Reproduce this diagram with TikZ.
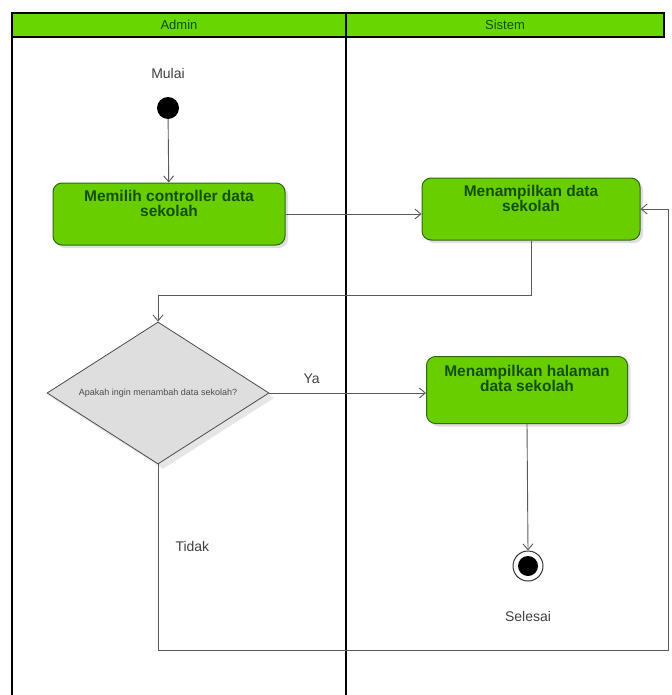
\documentclass[tikz,border=0pt]{standalone}
\usepackage{fontspec}
\setmainfont{Liberation Sans}
\usetikzlibrary{shapes.geometric,arrows.meta,shadows}

\definecolor{lanegreen}{RGB}{104,214,0}
\definecolor{boxgreen}{RGB}{104,206,0}
\definecolor{boxborder}{RGB}{48,105,12}
\definecolor{textgreen}{RGB}{22,78,0}
\definecolor{linegray}{RGB}{90,90,90}
\definecolor{decisiongray}{RGB}{222,222,222}

\begin{document}
\begin{tikzpicture}[x=1pt,y=-1pt]
    % Define styles
    \tikzset{
        activity/.style={rectangle, rounded corners=9pt, draw=boxborder, line width=1pt, fill=boxgreen, text=textgreen, font=\bfseries\fontsize{15.5}{15}\selectfont, align=center, inner sep=0pt, drop shadow={opacity=0.25, shadow xshift=3pt, shadow yshift=-3pt}},
        decision/.style={diamond, draw=black!70, line width=0.8pt, fill=decisiongray, font=\fontsize{9}{10}\selectfont, text=black!70, inner sep=0pt, drop shadow={opacity=0.2, shadow xshift=5pt, shadow yshift=-5pt}},
        lanehead/.style={font=\fontsize{13}{14}\selectfont, text=textgreen},
        caption/.style={font=\fontsize{14}{16}\selectfont, text=black!75},
        arrow/.style={draw=linegray, line width=0.9pt, -{Straight Barb[length=6pt,width=10pt]}},
        lane/.style={draw=black, line width=2pt}
    }
    \useasboundingbox (0,0) rectangle (671,695);

    % Swimlanes
    \draw[lane, fill=lanegreen] (12,13) rectangle (664,37);
    \draw[lane] (12,37) -- (12,695);
    \draw[lane] (346,13) -- (346,695);
    \node[lanehead] (admin_head) at (179,25) {Admin};
    \node[lanehead] (sistem_head) at (505,25) {Sistem};

    % Nodes
    \node[caption] (mulai) at (168,73) {Mulai};
    \node[circle, fill=black, minimum size=22pt, inner sep=0pt] (start) at (168,108) {};
    \node[activity, minimum width=232pt, minimum height=62pt] (pilih_controller) at (169,214) {Memilih controller data\\sekolah\\[6pt]};
    \node[activity, minimum width=218pt, minimum height=62pt] (tampil_data) at (531,209) {Menampilkan data\\sekolah\\[6pt]};
    \node[decision, minimum width=222pt, minimum height=142pt] (tambah_data) at (158,393) {\makebox[0pt]{Apakah ingin menambah data sekolah?}};
    \node[activity, minimum width=201pt, minimum height=67pt] (tampil_halaman) at (527,390) {Menampilkan halaman\\data sekolah\\[8pt]};
    \node[circle, draw=black!80, line width=1pt, fill=white, minimum size=30pt, inner sep=0pt] (finish) at (528,566) {};
    \node[circle, fill=black, minimum size=20pt, inner sep=0pt] at (finish) {};
    \node[caption] (selesai) at (528,616) {Selesai};

    % Arrows
    \draw[arrow] (start) -- (pilih_controller);
    \draw[arrow] (pilih_controller.east) -- (pilih_controller.east -| tampil_data.west);
    \draw[arrow] (tampil_data.south) -- ++(0,55) -| (tambah_data.north);
    \draw[arrow] (tambah_data.east) -- (tambah_data.east -| tampil_halaman.west) node[pos=0.27, above=6pt, caption] {Ya};
    \draw[arrow] (tampil_halaman.south) -- (finish.north);
    \draw[arrow] (tambah_data.south) -- ++(0,186) -| ([xshift=28pt]tampil_data.east) -- (tampil_data.east);
    \node[caption, anchor=west] (tidak) at (172,546) {Tidak};
\end{tikzpicture}
\end{document}
